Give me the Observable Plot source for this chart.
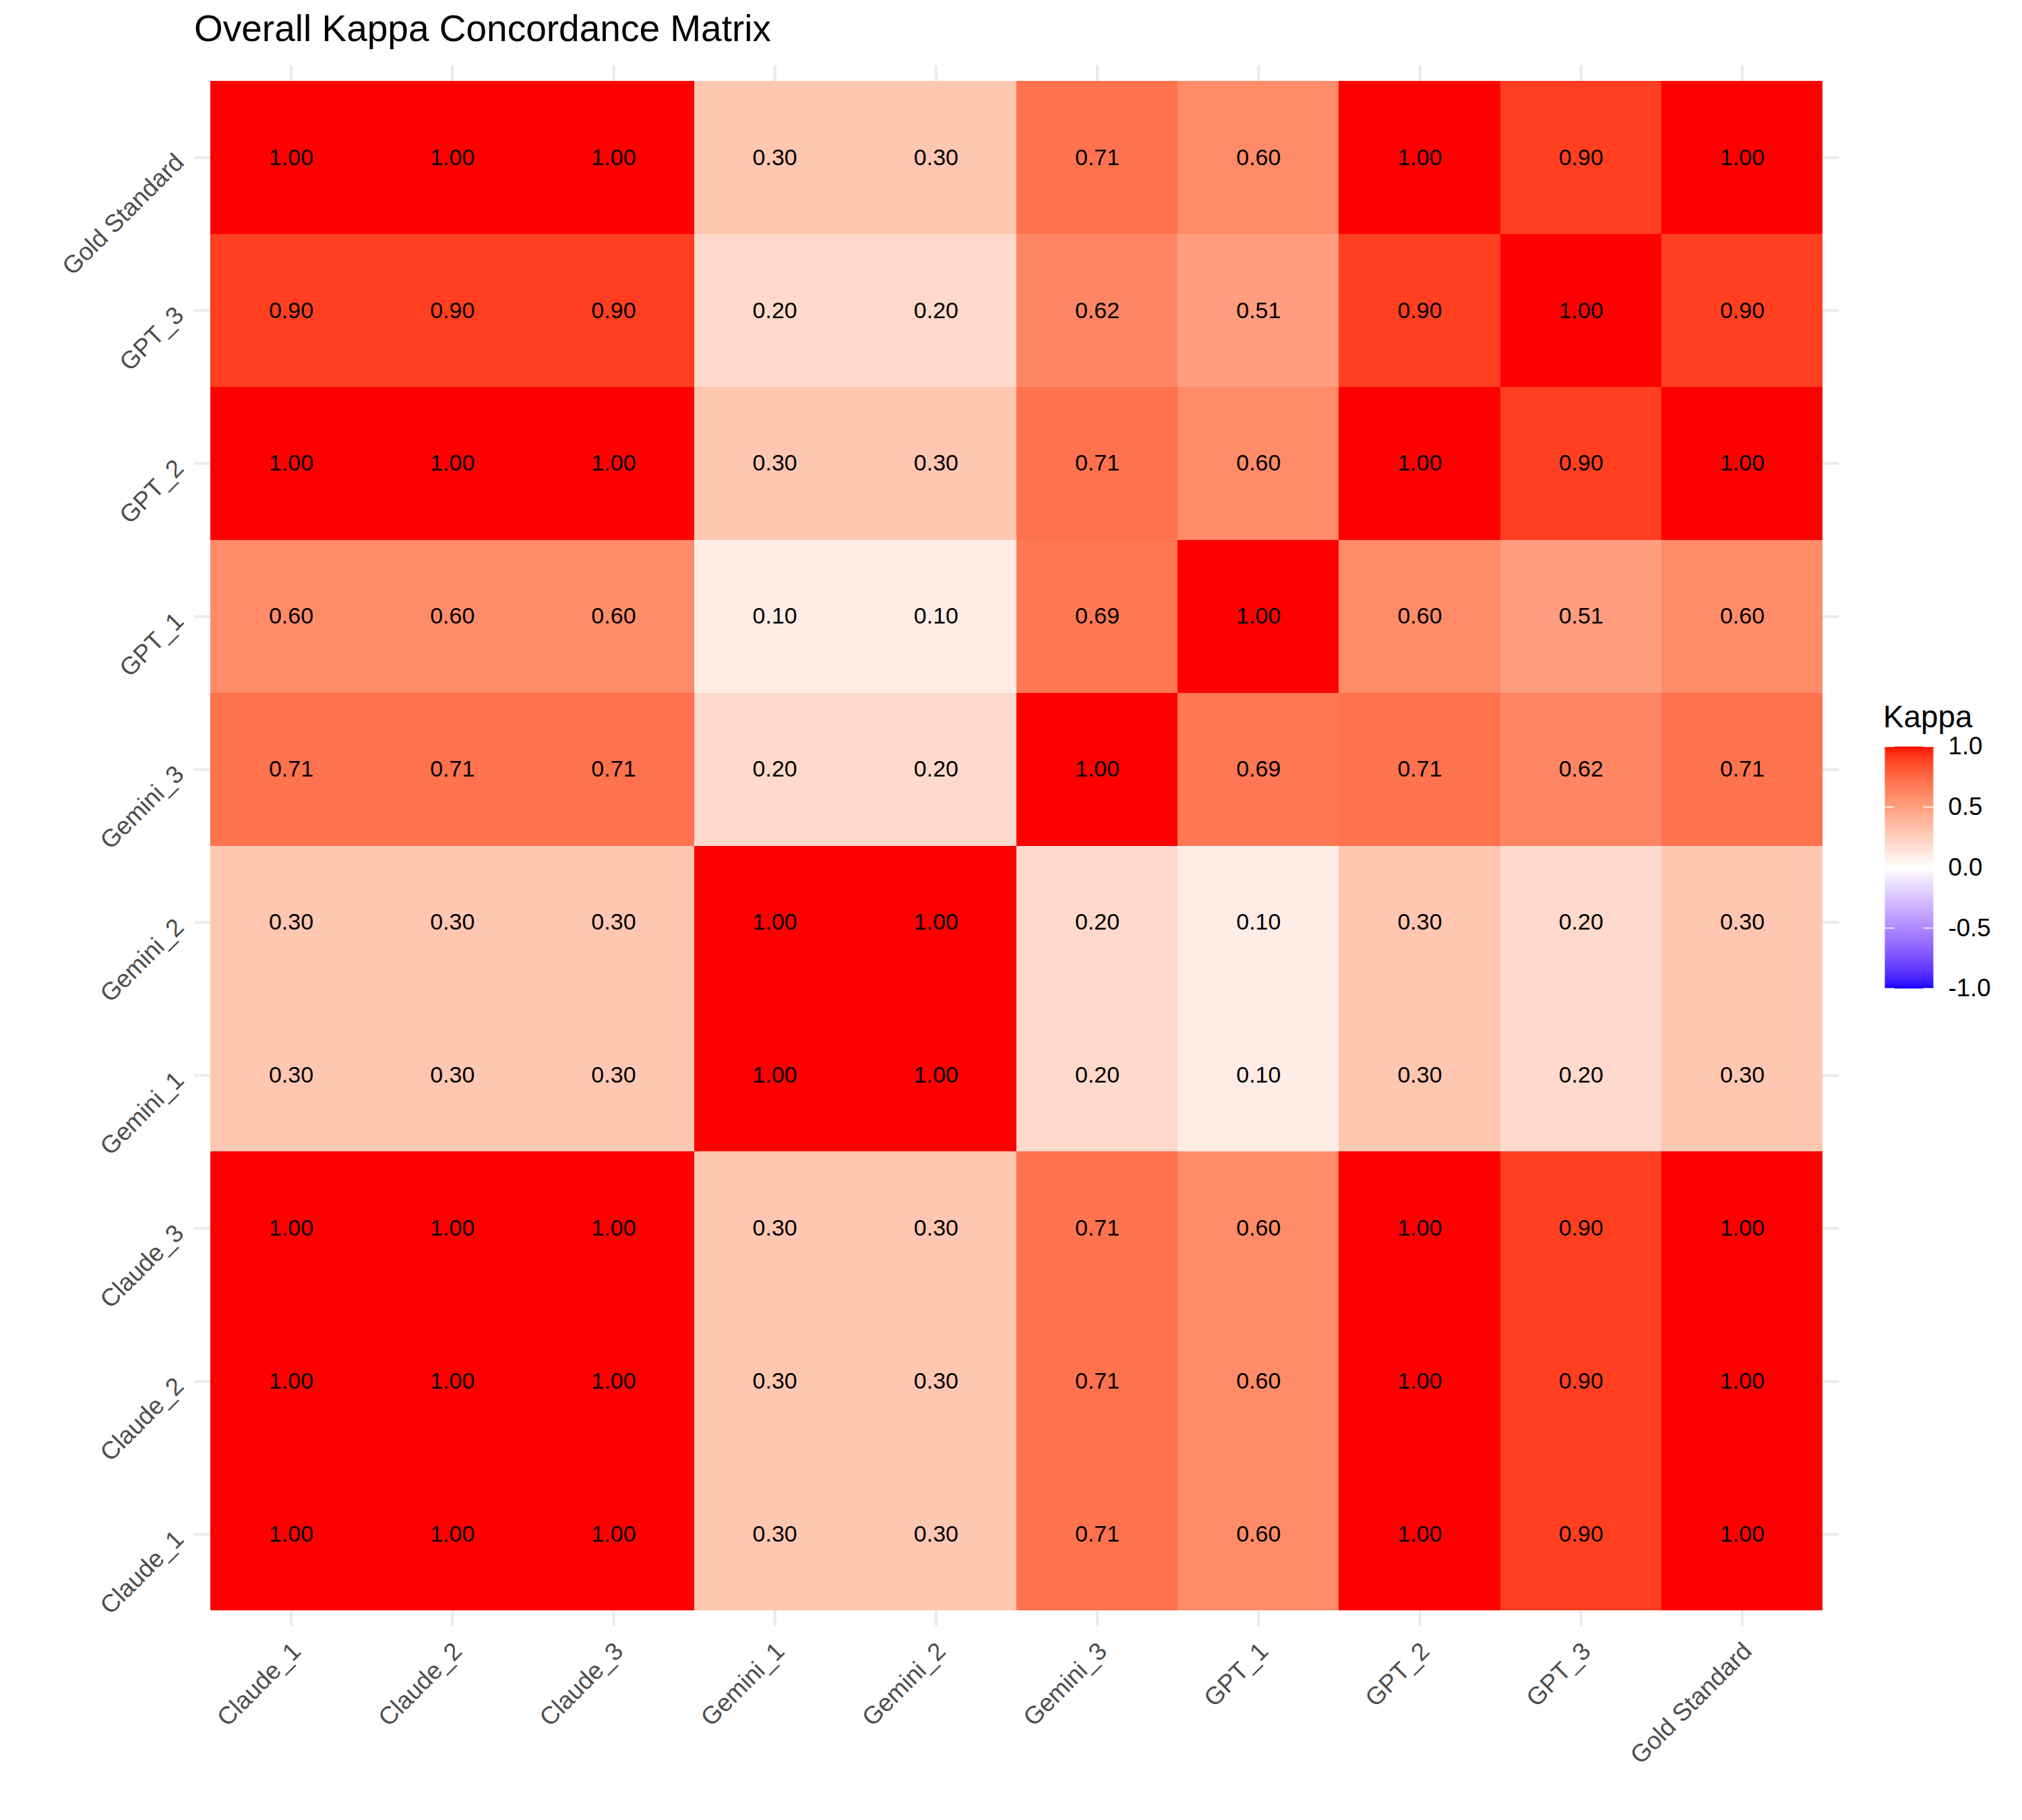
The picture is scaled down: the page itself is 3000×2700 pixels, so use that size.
<!DOCTYPE html>
<html>
<head>
<meta charset="utf-8">
<script src="https://cdn.jsdelivr.net/npm/d3@7"></script>
<script src="https://cdn.jsdelivr.net/npm/@observablehq/plot@0.6"></script>
<style>
  html, body { margin: 0; padding: 0; background: #ffffff; }
  #root { position: relative; width: 3000px; height: 2700px; background: #ffffff; font-family: "Liberation Sans", Arial, Helvetica, sans-serif; }
  #title { position: absolute; left: 288px; top: 15px; font-size: 55px; line-height: 55px; color: #000; white-space: nowrap; }
  #legendTitle { position: absolute; left: 2794px; top: 1041px; font-size: 45.8px; line-height: 45.8px; color: #000; white-space: nowrap; }
  #main { position: absolute; left: 0; top: 0; }
  #legend { position: absolute; left: 2796px; top: 1000px; }
</style>
</head>
<body>
<div id="root">
  <div id="main"></div>
  <div id="title">Overall Kappa Concordance Matrix</div>
  <div id="legendTitle">Kappa</div>
  <div id="legend"></div>
</div>
<script>
// ---------- data ----------
const raters = ["Claude_1", "Claude_2", "Claude_3", "Gemini_1", "Gemini_2", "Gemini_3", "GPT_1", "GPT_2", "GPT_3", "Gold Standard"];

// one row per rater (y), values per column rater (x), same order as `raters`
const kappaClaude1 = [1.00, 1.00, 1.00, 0.30, 0.30, 0.71, 0.60, 1.00, 0.90, 1.00];
const kappaClaude2 = [1.00, 1.00, 1.00, 0.30, 0.30, 0.71, 0.60, 1.00, 0.90, 1.00];
const kappaClaude3 = [1.00, 1.00, 1.00, 0.30, 0.30, 0.71, 0.60, 1.00, 0.90, 1.00];
const kappaGemini1 = [0.30, 0.30, 0.30, 1.00, 1.00, 0.20, 0.10, 0.30, 0.20, 0.30];
const kappaGemini2 = [0.30, 0.30, 0.30, 1.00, 1.00, 0.20, 0.10, 0.30, 0.20, 0.30];
const kappaGemini3 = [0.71, 0.71, 0.71, 0.20, 0.20, 1.00, 0.69, 0.71, 0.62, 0.71];
const kappaGPT1    = [0.60, 0.60, 0.60, 0.10, 0.10, 0.69, 1.00, 0.60, 0.51, 0.60];
const kappaGPT2    = [1.00, 1.00, 1.00, 0.30, 0.30, 0.71, 0.60, 1.00, 0.90, 1.00];
const kappaGPT3    = [0.90, 0.90, 0.90, 0.20, 0.20, 0.62, 0.51, 0.90, 1.00, 0.90];
const kappaGold    = [1.00, 1.00, 1.00, 0.30, 0.30, 0.71, 0.60, 1.00, 0.90, 1.00];

const kappaRows = [kappaClaude1, kappaClaude2, kappaClaude3, kappaGemini1, kappaGemini2,
                   kappaGemini3, kappaGPT1, kappaGPT2, kappaGPT3, kappaGold];

const legendBreaks = [-1, -0.5, 0, 0.5, 1];
const colorLimits = [-1, 0, 1];
const colorStops = ["blue", "white", "red"];

// ---------- table ----------
const cells = [];
kappaRows.forEach((row, i) => {
  row.forEach((v, j) => {
    cells.push({row: raters[i], col: raters[j], kappa: v});
  });
});

const font = '"Liberation Sans", Arial, Helvetica, sans-serif';
const colorScale = {type: "linear", domain: colorLimits, range: colorStops, interpolate: d3.interpolateLab};

// ---------- main heatmap ----------
const main = Plot.plot({
  width: 3000,
  height: 2700,
  marginLeft: 288,
  marginRight: 272,
  marginTop: 97,
  marginBottom: 288,
  style: {fontFamily: font, background: "transparent"},
  x: {domain: raters, paddingInner: 0, paddingOuter: 0.1, round: false, label: null},
  y: {domain: raters.slice().reverse(), paddingInner: 0, paddingOuter: 0.1, round: false, label: null},
  color: colorScale,
  marks: [
    Plot.gridX({stroke: "#EBEBEB", strokeOpacity: 1, strokeWidth: 4.3}),
    Plot.gridY({stroke: "#EBEBEB", strokeOpacity: 1, strokeWidth: 4.3}),
    Plot.cell(cells, {x: "col", y: "row", fill: "kappa", shapeRendering: "crispEdges"}),
    Plot.text(cells, {x: "col", y: "row", text: d => d.kappa.toFixed(2), fontSize: 34, fill: "#000000"}),
    Plot.axisX({anchor: "bottom", tickRotate: -45, tickSize: 0, tickPadding: 31, dx: 8, fontSize: 36.7, color: "#4D4D4D", label: null}),
    Plot.axisY({anchor: "left", tickRotate: -45, tickSize: 0, tickPadding: 22, dy: 1, fontSize: 36.7, color: "#4D4D4D", label: null})
  ]
});
document.getElementById("main").appendChild(main);

// ---------- legend colourbar ----------
const legend = Plot.plot({
  width: 204,
  height: 500,
  marginLeft: 0,
  marginRight: 132,
  marginTop: 107,
  marginBottom: 34,
  style: {fontFamily: font, background: "transparent"},
  x: {domain: [0, 1], axis: null},
  y: {domain: [-1, 1], label: null},
  color: colorScale,
  marks: [
    Plot.raster({x1: 0, x2: 1, y1: -1, y2: 1, width: 1, height: 400, fill: (x, y) => y, imageRendering: "auto"}),
    Plot.ruleY(legendBreaks, {y: d => d, x1: 0, x2: 0.2, stroke: "white", strokeWidth: 1.5}),
    Plot.ruleY(legendBreaks, {y: d => d, x1: 0.8, x2: 1, stroke: "white", strokeWidth: 1.5}),
    Plot.axisY({anchor: "right", ticks: legendBreaks, tickFormat: d => d.toFixed(1), tickSize: 0, tickPadding: 22, fontSize: 36.7, color: "#000000", label: null})
  ]
});
document.getElementById("legend").appendChild(legend);
</script>
</body>
</html>
